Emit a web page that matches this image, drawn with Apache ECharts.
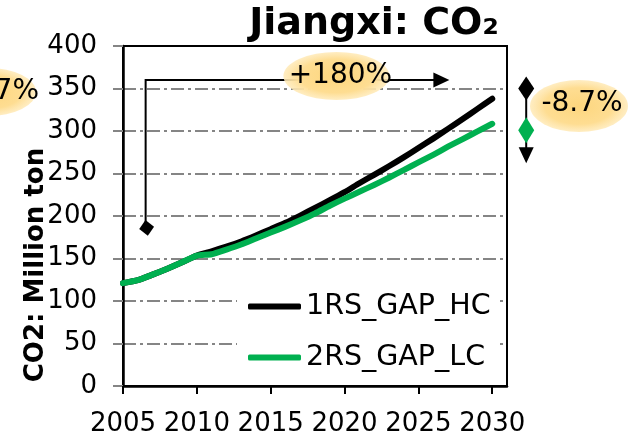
<!DOCTYPE html>
<html>
<head>
<meta charset="utf-8">
<script src="https://cdn.jsdelivr.net/npm/echarts@6/dist/echarts.min.js"></script>
<style>
  html, body { margin: 0; padding: 0; background: #fff; }
  #chart { width: 630px; height: 435px; }
</style>
</head>
<body>
<div id="chart"></div>
<script>
// Jiangxi CO2 emission scenarios, million tonnes
const years = [2005, 2006, 2007, 2008, 2009, 2010, 2011, 2012, 2013, 2014, 2015, 2016, 2017,
               2018, 2019, 2020, 2021, 2022, 2023, 2024, 2025, 2026, 2027, 2028, 2029, 2030];
const hcValues = [121, 124.5, 131, 138, 145.5, 153.5, 158.5, 164, 170, 177, 184.5, 192, 200.5,
                  209.5, 218.5, 228, 238.5, 248.5, 258.5, 269, 280, 291, 302.5, 314, 326, 338];
const lcValues = [121, 124.5, 131, 138, 145.5, 153.5, 155, 160.5, 166.5, 173.5, 180.5, 187.5, 195,
                  203, 212, 220.5, 228.5, 236.5, 245, 254, 263, 272, 281.5, 290.5, 299.5, 308.5];
const seriesNames = ['1RS_GAP_HC', '2RS_GAP_LC'];
const xTicks = [2005, 2010, 2015, 2020, 2025, 2030];

// annotation anchors in data units
const growthLabel = '+180%';
const gapLabel = '-8.7%';
const edgeLabel = '-3.7%';
const growthStart = [2006.6, 186];
const growthLevel = 360;
const growthEndYear = 2027.1;
const growthLabelYear = 2019.45;
const gapYear = 2032.3;
const gapHigh = 350;
const gapLow = 301;
const gapArrowTip = 262;

const FONT = '"DejaVu Sans", Verdana, sans-serif';
const GRID_DASH = [13, 4, 3, 4];
const GRID_GREY = '#858585';

const chart = echarts.init(document.getElementById('chart'), null, { renderer: 'canvas' });

chart.setOption({
  animation: false,
  backgroundColor: '#ffffff',
  grid: {
    left: 123, right: 123, top: 46, bottom: 49,
    outerBoundsMode: 'none', containLabel: false,
    show: true, borderColor: '#000', borderWidth: 2, backgroundColor: 'transparent'
  },
  xAxis: {
    type: 'value', min: 2005, max: 2031, interval: 5,
    axisLine: { show: true, onZero: false, lineStyle: { color: '#000', width: 2.5 } },
    axisTick: { show: true, length: 8, customValues: xTicks, lineStyle: { color: '#000', width: 2 } },
    axisLabel: {
      customValues: xTicks, margin: 25,
      color: '#000', fontSize: 26, fontFamily: FONT,
      formatter: v => String(v)
    },
    splitLine: { show: false }
  },
  yAxis: {
    type: 'value', min: 0, max: 400, interval: 50,
    axisLine: { show: true, lineStyle: { color: '#000', width: 2.5 } },
    axisTick: { show: true, length: 10, lineStyle: { color: GRID_GREY, width: 2, type: GRID_DASH } },
    axisLabel: { margin: 26, color: '#000', fontSize: 26, fontFamily: FONT },
    splitLine: {
      show: true, showMinLine: false, showMaxLine: false,
      lineStyle: { color: GRID_GREY, width: 2, type: GRID_DASH }
    }
  },
  legend: {
    orient: 'vertical',
    left: 237, top: 280,
    padding: [12, 8, 10, 11],
    backgroundColor: '#ffffff',
    itemWidth: 53, itemHeight: 6, itemGap: 22,
    icon: 'roundRect',
    textStyle: { color: '#000', fontSize: 28.5, fontFamily: FONT },
    data: seriesNames
  },
  series: [
    {
      name: seriesNames[0], type: 'line', smooth: 0.2, symbol: 'none',
      data: years.map((y, i) => [y, hcValues[i]]),
      itemStyle: { color: '#000000' },
      lineStyle: { color: '#000000', width: 6, cap: 'round', join: 'round' }
    },
    {
      name: seriesNames[1], type: 'line', smooth: 0.2, symbol: 'none',
      data: years.map((y, i) => [y, lcValues[i]]),
      itemStyle: { color: '#00B050' },
      lineStyle: { color: '#00B050', width: 6, cap: 'round', join: 'round' }
    }
  ]
});

const px = (x, y) => chart.convertToPixel({ gridIndex: 0 }, [x, y]);

function bubble(cx, cy, rx, ry) {
  return {
    type: 'circle', x: cx, y: cy, scaleX: rx / ry, z: 20,
    shape: { cx: 0, cy: 0, r: ry },
    style: {
      fill: {
        type: 'radial', x: 0.5, y: 0.5, r: 0.5,
        colorStops: [
          { offset: 0, color: '#FDD67E' },
          { offset: 0.7, color: '#FEDD92' },
          { offset: 1, color: 'rgba(255,234,184,0.85)' }
        ]
      }
    }
  };
}

function label(text, x, y, align) {
  return {
    type: 'text', x: x, y: y, z: 21,
    style: { text: text, fill: '#000', font: '28px ' + FONT, align: align || 'center', verticalAlign: 'middle' }
  };
}

function diamond(cx, cy, hw, hh, color, rot) {
  return {
    type: 'polygon', x: cx, y: cy, rotation: rot || 0, z: 22,
    shape: { points: [[0, -hh], [hw, 0], [0, hh], [-hw, 0]] },
    style: { fill: color }
  };
}

const p0 = px(growthStart[0], growthStart[1]);
const pCorner = px(growthStart[0], growthLevel);
const pEnd = px(growthEndYear, growthLevel);
const gHigh = px(gapYear, gapHigh);
const gLow = px(gapYear, gapLow);
const gTip = px(gapYear, gapArrowTip);
const pMid = px(growthLabelYear, growthLevel);

chart.setOption({
  graphic: [
    // growth arrow from the base-year marker
    {
      type: 'polyline', z: 18,
      shape: { points: [[p0[0] - 1, p0[1]], [pCorner[0] - 1, pCorner[1]], [pEnd[0] - 14, pEnd[1]]] },
      style: { stroke: '#000', lineWidth: 2, fill: null }
    },
    {
      type: 'polygon', z: 18,
      shape: { points: [[pEnd[0] - 16, pEnd[1] - 7.5], [pEnd[0], pEnd[1]], [pEnd[0] - 16, pEnd[1] + 7.5]] },
      style: { fill: '#000' }
    },
    diamond(p0[0], p0[1], 7.5, 8, '#000', 0.15),
    bubble(pMid[0], pMid[1] - 4, 53, 24),
    label(growthLabel, pMid[0] + 4, pMid[1] - 4),

    // scenario gap marker
    {
      type: 'line', z: 18,
      shape: { x1: gHigh[0], y1: gHigh[1], x2: gTip[0], y2: gTip[1] - 10 },
      style: { stroke: '#000', lineWidth: 2 }
    },
    {
      type: 'polygon', z: 18,
      shape: { points: [[gTip[0] - 7.5, gTip[1] - 16], [gTip[0] + 7.5, gTip[1] - 16], [gTip[0], gTip[1]]] },
      style: { fill: '#000' }
    },
    diamond(gHigh[0], gHigh[1], 8, 12, '#000'),
    diamond(gLow[0], gLow[1], 8, 13, '#00B050'),
    bubble(579, 106, 49, 26),
    label(gapLabel, 582, 104),

    // label spilling in from the neighbouring panel
    bubble(-12, 92, 48, 24),
    label(edgeLabel, 39, 92, 'right'),

    // title and axis name
    {
      type: 'text', x: 499, y: 24, z: 25,
      style: { text: 'Jiangxi: CO\u2082', fill: '#000', font: 'bold 38px ' + FONT, align: 'right', verticalAlign: 'middle' }
    },
    {
      type: 'text', x: 36, y: 265, rotation: Math.PI / 2, z: 25,
      style: { text: 'CO2: Million ton', fill: '#000', font: 'bold 26px ' + FONT, align: 'center', verticalAlign: 'middle' }
    }
  ]
});
</script>
</body>
</html>
